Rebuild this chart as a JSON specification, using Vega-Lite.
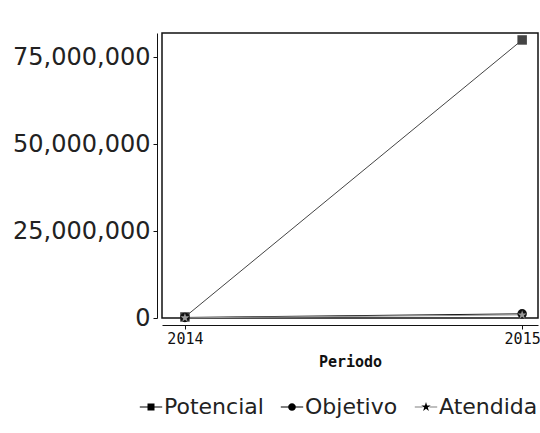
{
  "$schema": "https://vega.github.io/schema/vega-lite/v6.json",
  "width": 376,
  "height": 285,
  "autosize": "none",
  "padding": {"left": 162, "top": 33, "right": 2, "bottom": 115},
  "background": "white",
  "config": {
    "view": {"stroke": "#111", "strokeWidth": 1.5},
    "font": "DejaVu Sans"
  },
  "data": {
    "values": [
      {"Periodo": 2014, "serie": "Potencial", "valor": 300000},
      {"Periodo": 2015, "serie": "Potencial", "valor": 80000000},
      {"Periodo": 2014, "serie": "Objetivo", "valor": 150000},
      {"Periodo": 2015, "serie": "Objetivo", "valor": 1200000},
      {"Periodo": 2014, "serie": "Atendida", "valor": 50000},
      {"Periodo": 2015, "serie": "Atendida", "valor": 900000}
    ]
  },
  "encoding": {
    "x": {
      "field": "Periodo",
      "type": "quantitative",
      "scale": {"domain": [2013.932, 2015.047], "nice": false, "zero": false},
      "axis": {
        "values": [2014, 2015],
        "format": "d",
        "grid": false,
        "offset": 7,
        "domainColor": "#111",
        "tickColor": "#111",
        "tickSize": 4,
        "labelFont": "DejaVu Sans Mono",
        "labelFontSize": 15,
        "labelColor": "#111",
        "labelFlush": false,
        "labelPadding": 2,
        "title": "Periodo",
        "titleFont": "DejaVu Sans Mono",
        "titleFontSize": 15,
        "titleFontWeight": "bold",
        "titleColor": "#111",
        "titlePadding": 8
      }
    },
    "y": {
      "field": "valor",
      "type": "quantitative",
      "scale": {"domain": [0, 82000000], "nice": false},
      "axis": {
        "values": [0, 25000000, 50000000, 75000000],
        "format": ",d",
        "grid": false,
        "offset": 5,
        "domainColor": "#111",
        "tickColor": "#111",
        "tickSize": 4,
        "labelFont": "DejaVu Sans",
        "labelFontSize": 24,
        "labelColor": "#222",
        "labelPadding": 3,
        "title": null
      }
    },
    "color": {
      "field": "serie",
      "type": "nominal",
      "scale": {"domain": ["Potencial", "Objetivo", "Atendida"], "range": ["#444444", "#111111", "#999999"]},
      "legend": null
    }
  },
  "layer": [
    {
      "mark": {"type": "line", "strokeWidth": 1}
    },
    {
      "mark": {"type": "point", "filled": true, "size": 10, "opacity": 1},
      "encoding": {
        "shape": {
          "field": "serie",
          "type": "nominal",
          "scale": {
            "domain": ["Potencial", "Objetivo", "Atendida"],
            "range": [
              "M-1.6,-0.07H1.6V0.07H-1.6Z M-0.5,-0.5H0.5V0.5H-0.5Z",
              "M-1.6,-0.07H-0.5V0.07H-1.6Z M0.5,-0.07H1.6V0.07H0.5Z M-0.55,0A0.55,0.55 0 1,1 0.55,0A0.55,0.55 0 1,1 -0.55,0Z",
              "M-1.6,-0.05H-0.5V0.05H-1.6Z M0.5,-0.05H1.6V0.05H0.5Z M0,-0.7L0.157,-0.216L0.666,-0.216L0.254,0.083L0.411,0.566L0,0.267L-0.411,0.566L-0.254,0.083L-0.666,-0.216L-0.157,-0.216Z"
            ]
          },
          "legend": {
            "orient": "none",
            "legendX": -22,
            "legendY": 363,
            "direction": "horizontal",
            "title": null,
            "labelFontSize": 22,
            "labelFont": "DejaVu Sans",
            "labelColor": "#222",
            "symbolSize": 196,
            "symbolOpacity": 1,
            "symbolStrokeWidth": 0,
            "columnPadding": 16,
            "labelOffset": 2,
            "padding": 0,
            "encode": {
              "symbols": {
                "update": {
                  "fill": {"scale": "color", "field": "value"},
                  "size": {"value": 196}
                }
              }
            }
          }
        }
      }
    },
    {
      "mark": {"type": "point", "filled": true, "size": 90, "opacity": 1},
      "encoding": {
        "shape": {
          "field": "serie",
          "type": "nominal",
          "scale": {
            "domain": ["Potencial", "Objetivo", "Atendida"],
            "range": ["square", "circle", "M0,-1L0.225,-0.309L0.951,-0.309L0.363,0.118L0.588,0.809L0,0.382L-0.588,0.809L-0.363,0.118L-0.951,-0.309L-0.225,-0.309Z"]
          },
          "legend": null
        }
      }
    }
  ],
  "resolve": {"scale": {"shape": "independent"}}
}
